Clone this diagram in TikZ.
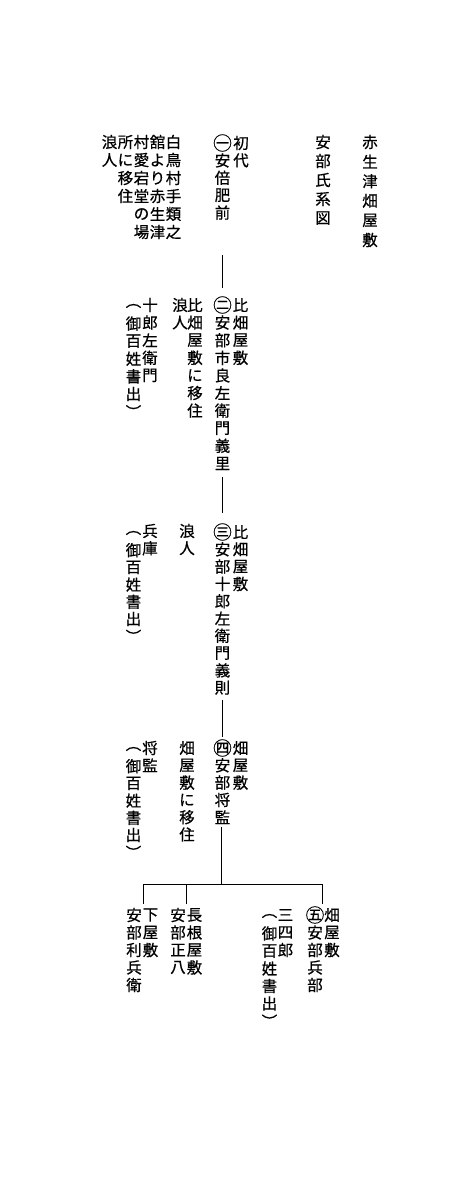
\documentclass[tikz,border=0pt]{standalone}
\usepackage{fontspec}
\newfontfamily\jp[FakeBold=0.6]{Noto Sans CJK JP}
\tikzset{
  ch/.style={font=\jp\fontsize{15.5}{15.5}\selectfont, inner sep=0pt, anchor=center},
  link/.style={line width=0.8pt, draw=black}
}
\newcommand\vcol[5]{\foreach \c [count=\i from 0] in {#5} {\node[ch] (#1-\i) at (#2,{#3+\i*#4}) {\c};}}
\newcommand\circnum[1]{\scalebox{1.2}{#1}}
\begin{document}
\begin{tikzpicture}[x=1pt,y=-1pt]
\fill[white] (0,0) rectangle (464,1200);
\useasboundingbox (0,0) rectangle (464,1200);
% title
\vcol{ta}{370}{142}{19.6}{赤,生,津,畑,屋,敷}
\vcol{tb}{323}{142}{19}{安,部,氏,系,図}
% generation 1
\vcol{ga}{241}{143}{17.4}{初,代}
\vcol{gb}{222.5}{143}{17.4}{\circnum{㊀},安,倍,肥,前}
\vcol{na}{173.5}{142}{18}{白,鳥,村,手,類,之}
\vcol{nb}{157.5}{142}{18}{舘,よ,り,赤,生,津}
\vcol{nc}{141.5}{142}{18}{村,愛,宕,堂,の,場}
\vcol{nd}{125.5}{142}{18}{所,に,移,住}
\vcol{ne}{109.5}{142}{18}{浪,人}
% generation 2
\vcol{hb}{222.5}{305}{17.6}{\circnum{㊁},安,部,市,良,左,衛,門,義,里}
\vcol{ha}{240.5}{305}{17.6}{比,畑,屋,敷}
\vcol{hc}{195}{305}{17.6}{比,畑,屋,敷,に,移,住}
\vcol{hd}{180}{305}{17.6}{浪,人}
\vcol{he}{150}{305}{17.6}{十,郎,左,衛,門}
\vcol{hf}{133.5}{306}{17.6}{︵,御,百,姓,書,出,︶}
% generation 3
\vcol{ib}{222.5}{532}{17.3}{\circnum{㊂},安,部,十,郎,左,衛,門,義,則}
\vcol{ia}{240.5}{532}{17.3}{比,畑,屋,敷}
\vcol{ic}{187}{531}{17.3}{浪,人}
\vcol{id}{150}{531}{17.3}{兵,庫}
\vcol{ie}{133.5}{533}{17.2}{︵,御,百,姓,書,出,︶}
% generation 4
\vcol{jb}{222.5}{748}{17.3}{\circnum{㊃},安,部,将,監}
\vcol{ja}{240.5}{748}{17.3}{畑,屋,敷}
\vcol{jc}{187}{748}{17.3}{畑,屋,敷,に,移,住}
\vcol{jd}{150}{748}{17.3}{将,監}
\vcol{je}{133.5}{749}{17.2}{︵,御,百,姓,書,出,︶}
% generation 5
\vcol{kb}{315}{915}{17.5}{\circnum{㊄},安,部,兵,部}
\vcol{ka}{332}{915}{17.5}{畑,屋,敷}
\vcol{kc}{285.5}{915}{17.5}{三,四,郎}
\vcol{kd}{269.5}{916}{17.5}{︵,御,百,姓,書,出,︶}
\vcol{ke}{194.5}{915}{17.5}{長,根,屋,敷}
\vcol{kf}{178}{915}{17.5}{安,部,正,八}
\vcol{kg}{150.5}{915}{17.5}{下,屋,敷}
\vcol{kh}{134}{915}{17.5}{安,部,利,兵,衛}
% connectors
\coordinate (l1a) at (222.5,255);
\coordinate (l1b) at (222.5,288);
\coordinate (l2a) at (222.5,477);
\coordinate (l2b) at (222.5,513);
\coordinate (l3a) at (222.5,700);
\coordinate (l3b) at (222.5,737);
\coordinate (l4a) at (221.5,827);
\coordinate (l4b) at (221.5,884);
\coordinate (bl) at (143,884);
\coordinate (bm) at (186,884);
\coordinate (br) at (322,884);
\coordinate (dl) at (143,904);
\coordinate (dm) at (186,904);
\coordinate (dr) at (322,904);
\draw[link] (l1a) -- (l1b);
\draw[link] (l2a) -- (l2b);
\draw[link] (l3a) -- (l3b);
\draw[link] (l4a) -- (l4b);
\draw[link] (dl) -- (bl) -- (br) -- (dr);
\draw[link] (bm) -- (dm);
\end{tikzpicture}
\end{document}
